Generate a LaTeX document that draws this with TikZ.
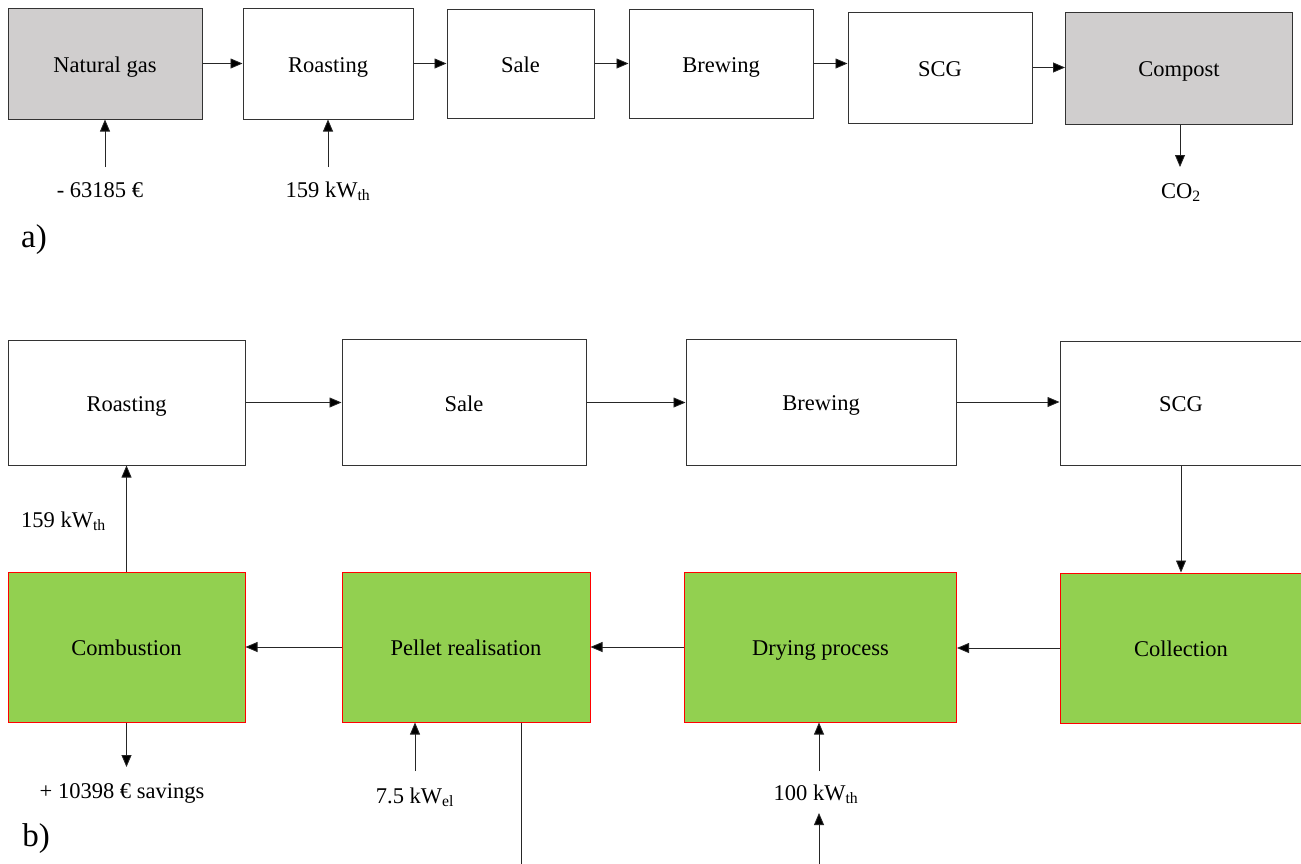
\documentclass[tikz,border=0pt]{standalone}
\usepackage{fontspec}
\setmainfont{Liberation Serif}
\usetikzlibrary{arrows.meta}
\definecolor{boxgray}{HTML}{D0CECE}
\definecolor{boxgreen}{HTML}{92D050}
\newcommand\fs{\fontsize{22.5}{27}\selectfont}
\newcommand\fb{\fontsize{33}{38}\selectfont}
\tikzset{
  box/.style={draw=black!80, line width=1pt, rectangle, inner sep=0pt, font=\fs,
              text height=17pt, text depth=0pt},
  gbox/.style={box, fill=boxgray},
  grn/.style={box, draw=red, fill=boxgreen},
  lab/.style={inner sep=0pt, font=\fs, anchor=base},
  conn/.style={line width=0.8pt, draw=black!85, -{Triangle[length=12pt,width=10pt,fill=black]}},
  plain/.style={line width=0.8pt, draw=black!85},
}
\begin{document}
\begin{tikzpicture}[x=1pt,y=-1pt]
\useasboundingbox (0,0) rectangle (1301,863);
\clip (0,0) rectangle (1301,863);
\fill[white] (0,0) rectangle (1301,863);
% ---------- part a ----------
\node[gbox, minimum width=194pt, minimum height=111pt] (ang) at (105,63.5) {Natural gas};
\node[box, minimum width=170pt, minimum height=111pt] (aro) at (328,63.5) {Roasting};
\node[box, minimum width=147pt, minimum height=109pt] (asa) at (520.5,63.5) {Sale};
\node[box, minimum width=184pt, minimum height=109pt] (abr) at (721,63.5) {Brewing};
\node[box, minimum width=184pt, minimum height=111pt] (ascg) at (940,67.5) {SCG};
\node[gbox, minimum width=227pt, minimum height=112pt] (aco) at (1179,68) {Compost};
\draw[conn] (ang.east) -- (aro.west);
\draw[conn] (aro.east) -- (asa.west);
\draw[conn] (asa.east) -- (asa.east -| abr.west);
\draw[conn] (abr.east) -- (abr.east -| ascg.west);
\draw[conn] (ascg.east) -- (ascg.east -| aco.west);
\coordinate (s1) at (105,167);
\draw[conn] (s1) -- (s1 |- ang.south);
\node[lab] (l1) at (100,197) {- 63185 €};
\coordinate (s2) at (328,167);
\draw[conn] (s2) -- (s2 |- aro.south);
\node[lab] (l2) at (328,197) {159 kW\textsubscript{th}};
\coordinate (e3) at (1180,167);
\draw[conn] (aco.south -| e3) -- (e3);
\node[lab] (l3) at (1181,198) {CO\textsubscript{2}};
\node[lab, font=\fb] (la) at (34,247) {a)};
% ---------- part b ----------
\node[box, minimum width=237pt, minimum height=125pt] (bro) at (126.5,402.5) {Roasting};
\node[box, minimum width=244pt, minimum height=126pt] (bsa) at (464,402.5) {Sale};
\node[box, minimum width=270pt, minimum height=126pt] (bbr) at (821,402) {Brewing};
\node[box, minimum width=242pt, minimum height=124pt] (bscg) at (1181,403) {SCG};
\node[grn, minimum width=237pt, minimum height=150pt] (bcb) at (126.5,647) {Combustion};
\node[grn, minimum width=248pt, minimum height=150pt] (bpe) at (466,647) {Pellet realisation};
\node[grn, minimum width=272pt, minimum height=150pt] (bdr) at (820.5,647) {Drying process};
\node[grn, minimum width=242pt, minimum height=150pt] (bcol) at (1181,648) {Collection};
\draw[conn] (bro.east) -- (bro.east -| bsa.west);
\draw[conn] (bsa.east) -- (bsa.east -| bbr.west);
\draw[conn] (bbr.east) -- (bbr.east -| bscg.west);
\draw[conn] (bscg.south) -- (bcol.north);
\draw[conn] (bcol.west) -- (bcol.west -| bdr.east);
\draw[conn] (bdr.west) -- (bdr.west -| bpe.east);
\draw[conn] (bpe.west) -- (bpe.west -| bcb.east);
\draw[conn] (bcb.north) -- (bro.south);
\node[lab, anchor=base east] (lb1) at (106,527) {159 kW\textsubscript{th}};
\coordinate (e4) at (126.5,767);
\draw[conn] (bcb.south) -- (e4);
\node[lab] (lb2) at (122,798) {+ 10398 € savings};
\coordinate (s5) at (415,771);
\draw[conn] (s5) -- (s5 |- bpe.south);
\node[lab] (lb3) at (415,803) {7.5 kW\textsubscript{el}};
\coordinate (e6) at (521.5,870);
\draw[plain] (bpe.south -| e6) -- (e6);
\coordinate (s7) at (819,771);
\draw[conn] (s7) -- (s7 |- bdr.south);
\node[lab] (lb4) at (816,800) {100 kW\textsubscript{th}};
\coordinate (s8) at (819,870);
\coordinate (e8) at (819,813);
\draw[conn] (s8) -- (e8);
\node[lab, font=\fb] (lbb) at (36,846) {b)};
\end{tikzpicture}
\end{document}
